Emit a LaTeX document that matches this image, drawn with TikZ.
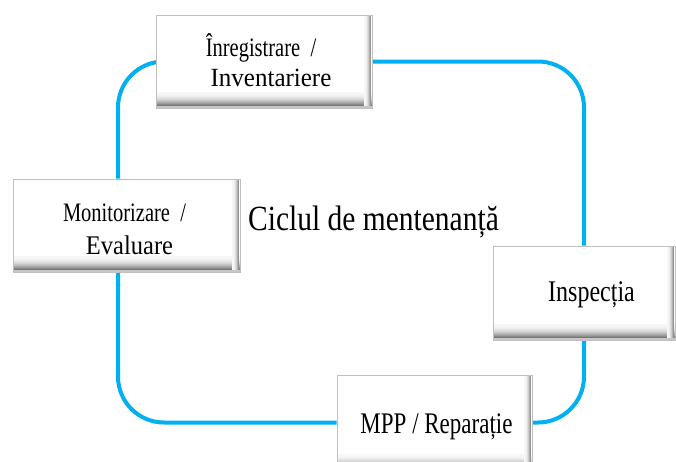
\documentclass[tikz,border=0pt]{standalone}
\usepackage{fontspec}
\setmainfont{Liberation Serif}
\usetikzlibrary{backgrounds}
\definecolor{cycblue}{HTML}{00B0F0}
\newcommand{\vst}[2]{\scalebox{1}[#1]{#2}}
\begin{document}
\begin{tikzpicture}[x=1pt,y=-1pt,
  box/.style={draw=black!25, line width=0.8pt, fill=white, inner sep=0pt,
    path picture={
      \foreach \i in {0,...,13}{
        \pgfmathsetmacro\g{int(3+\i*\i*0.3)}
        \fill[black!\g]
          ([yshift={(16-\i)*1pt}]path picture bounding box.south west)
          rectangle ([yshift={(15-\i)*1pt}]path picture bounding box.south east);
      }
      \fill[black!22] ([yshift=2pt]path picture bounding box.south west)
          rectangle (path picture bounding box.south east);
      \foreach \i in {0,...,6}{
        \pgfmathsetmacro\g{int(3+\i*\i*1.1)}
        \fill[black!\g]
          ([xshift={(\i-8)*1pt}]path picture bounding box.north east)
          rectangle ([xshift={(\i-7)*1pt}, yshift=2pt]path picture bounding box.south east);
      }
    }},
  cycline/.style={draw=cycblue, line width=4pt, rounded corners=46pt},
  lbl/.style={align=center, inner sep=0pt, text=black}]
\useasboundingbox (0,0) rectangle (676,461);
% boxes
\node[box, minimum width=216pt, minimum height=93pt] (reg) at (264,61.5) {};
\node[box, minimum width=182pt, minimum height=94pt] (insp) at (584,293) {};
\node[box, minimum width=195pt, minimum height=95pt] (mpp) at (434.5,422.5) {};
\node[box, minimum width=227pt, minimum height=93pt] (mon) at (126.5,225.5) {};
% cycle
\begin{scope}[on background layer]
  \draw[cycline] (reg.east) -| (insp.north);
  \draw[cycline] (insp.south) |- (mpp.east);
  \draw[cycline] (mpp.west) -| ([xshift=-8.5pt]mon.south);
  \draw[cycline] ([xshift=-8.5pt]mon.north) |- (reg.center);
\end{scope}
% texts
\node[lbl, font=\fontsize{20.5}{30}\selectfont] (treg1) at (261,48)
  {\vst{1.3}{Înregistrare~~/}};
\node[lbl, font=\fontsize{25}{30}\selectfont] (treg2) at (271,78)
  {\vst{1.05}{Inventariere}};
\node[lbl, font=\fontsize{20.5}{30}\selectfont] (tmon1) at (124.5,213)
  {\vst{1.3}{Monitorizare~~/}};
\node[lbl, font=\fontsize{24.5}{30}\selectfont] (tmon2) at (129.5,245)
  {\vst{1.1}{Evaluare}};
\node[lbl, font=\fontsize{24}{28}\selectfont] (tinsp) at (591.5,295) {\vst{1.25}{Inspecția}};
\node[lbl, font=\fontsize{23}{28}\selectfont] (tmpp) at (436.5,427) {\vst{1.3}{MPP / Reparație}};
\node[lbl, font=\fontsize{29.5}{34}\selectfont] (title) at (373.5,222) {\vst{1.2}{Ciclul de mentenanță}};
\end{tikzpicture}
\end{document}
